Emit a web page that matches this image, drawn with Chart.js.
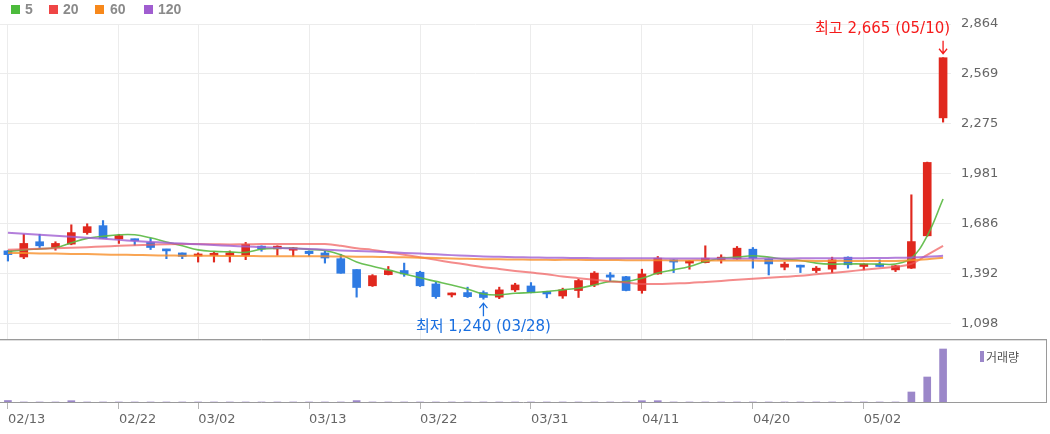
<!DOCTYPE html>
<html lang="ko">
<head>
<meta charset="utf-8">
<title>일봉 차트</title>
<script src="https://cdn.jsdelivr.net/npm/chart.js@4.4.1/dist/chart.umd.min.js"></script>
<style>
  html, body { margin: 0; padding: 0; background: #fff; }
  #wrap { position: relative; width: 1050px; height: 434px; overflow: hidden; }
  #priceChart { position: absolute; left: 0; top: 0; }
  #volChart { position: absolute; left: 0; top: 339px; }
  .sq { position: absolute; top: 5px; width: 9px; height: 9px; }
  .lg { position: absolute; top: 1px; font: bold 14px "Liberation Sans", Arial, sans-serif; color: #8a8a8a; }
  #volKey { position: absolute; left: 980px; top: 351px; width: 4px; height: 11px; background: #9b87c9; }
  #volTxt { position: absolute; left: 986px; top: 348px; font: 12px "Noto Sans CJK KR", sans-serif; color: #555; }
</style>
</head>
<body>
<div id="wrap">
  <canvas id="priceChart" width="1050" height="339"></canvas>
  <canvas id="volChart" width="1050" height="95"></canvas>

  <div class="sq" style="left:11px;background:#4cbb3c"></div><div class="lg" style="left:25px">5</div>
  <div class="sq" style="left:49px;background:#ef4545"></div><div class="lg" style="left:63px">20</div>
  <div class="sq" style="left:95px;background:#f7881b"></div><div class="lg" style="left:110px">60</div>
  <div class="sq" style="left:144px;background:#a05dd0"></div><div class="lg" style="left:158px">120</div>

  <div id="volKey"></div><div id="volTxt">거래량</div>
</div>

<script>
// trading days (2023)
const dates = [
  "02/13","02/14","02/15","02/16","02/17","02/20","02/21","02/22","02/23","02/24",
  "02/27","02/28","03/02","03/03","03/06","03/07","03/08","03/09","03/10","03/13",
  "03/14","03/15","03/16","03/17","03/20","03/21","03/22","03/23","03/24","03/27",
  "03/28","03/29","03/30","03/31","04/03","04/04","04/05","04/06","04/07","04/10",
  "04/11","04/12","04/13","04/14","04/17","04/18","04/19","04/20","04/21","04/24",
  "04/25","04/26","04/27","04/28","05/02","05/03","05/04","05/08","05/09","05/10"
];
const tickDates = ["02/13","02/22","03/02","03/13","03/22","03/31","04/11","04/20","05/02"];

const openP = [
  1525,1489,1579,1545,1565,1633,1674,1595,1593,1575,
  1533,1513,1495,1499,1499,1499,1553,1537,1529,1523,
  1513,1479,1415,1319,1385,1409,1399,1330,1265,1279,
  1279,1252,1295,1318,1285,1259,1291,1324,1383,1373,
  1291,1389,1472,1453,1456,1472,1478,1535,1476,1429,
  1437,1409,1417,1488,1433,1447,1413,1423,1614,2310
];
const highP = [
  1527,1623,1623,1579,1679,1685,1704,1623,1595,1599,
  1535,1513,1513,1519,1525,1575,1555,1555,1545,1525,
  1523,1505,1415,1385,1433,1453,1405,1340,1277,1311,
  1289,1311,1334,1338,1287,1305,1358,1403,1397,1375,
  1417,1492,1474,1468,1555,1502,1551,1545,1478,1459,
  1441,1433,1488,1490,1449,1472,1439,1856,2049,2665
];
const lowP = [
  1465,1479,1545,1529,1561,1623,1599,1569,1559,1533,
  1479,1479,1459,1459,1459,1473,1523,1499,1493,1495,
  1453,1393,1252,1315,1383,1375,1315,1245,1253,1250,
  1240,1243,1285,1277,1248,1245,1250,1314,1348,1289,
  1275,1387,1397,1417,1454,1453,1476,1423,1383,1413,
  1397,1397,1397,1423,1413,1431,1403,1421,1612,2285
];
const closeP = [
  1503,1569,1555,1569,1633,1668,1599,1615,1585,1545,
  1525,1493,1505,1509,1513,1563,1537,1553,1543,1509,
  1483,1393,1309,1379,1409,1389,1319,1255,1270,1255,
  1250,1295,1324,1279,1271,1295,1350,1394,1370,1291,
  1389,1482,1459,1466,1482,1488,1541,1482,1448,1447,
  1429,1423,1472,1443,1447,1433,1437,1580,2047,2665
];

// moving averages as drawn
const ma5 = [
  1521,1531,1537,1543,1573,1599,1611,1620,1620,1602,
  1578,1555,1531,1522,1519,1516,1535,1540,1541,1534,
  1527,1502,1460,1434,1413,1389,1366,1345,1324,1300,
  1271,1265,1275,1279,1285,1295,1305,1324,1344,1344,
  1364,1394,1413,1433,1462,1482,1488,1496,1488,1476,
  1468,1453,1447,1448,1448,1447,1448,1482,1614,1831
];
const ma20 = [
  1531,1534,1537,1540,1543,1547,1551,1555,1558,1561,
  1564,1565,1565,1564,1563,1564,1565,1565,1565,1565,
  1565,1555,1540,1531,1516,1502,1487,1472,1457,1443,
  1429,1418,1407,1397,1387,1374,1364,1354,1345,1338,
  1330,1330,1333,1336,1342,1348,1354,1360,1366,1372,
  1378,1387,1395,1404,1413,1422,1431,1448,1502,1555
];
const ma60 = [
  1513,1512,1510,1509,1507,1506,1504,1502,1501,1499,
  1498,1497,1496,1496,1495,1495,1494,1494,1493,1493,
  1493,1492,1491,1490,1489,1487,1485,1483,1480,1478,
  1476,1475,1474,1473,1472,1472,1472,1471,1471,1470,
  1470,1470,1469,1469,1469,1468,1468,1468,1467,1467,
  1467,1466,1466,1466,1465,1465,1466,1470,1476,1484
];
const ma120 = [
  1632,1626,1620,1614,1608,1602,1596,1590,1584,1578,
  1573,1568,1564,1560,1555,1551,1547,1543,1539,1536,
  1532,1528,1524,1521,1518,1513,1509,1505,1500,1496,
  1492,1490,1488,1486,1485,1484,1483,1482,1482,1481,
  1481,1481,1480,1480,1480,1480,1480,1480,1480,1480,
  1481,1481,1481,1482,1482,1483,1484,1486,1490,1496
];

// volume: only a few days show a visible bar
const volume = [
  150,0,0,0,130,0,0,0,0,0,
  0,0,0,0,0,0,0,0,0,0,
  0,0,140,0,0,0,0,0,0,0,
  0,0,0,0,0,0,0,0,0,0,
  130,130,0,0,0,0,0,0,0,0,
  0,0,0,0,0,0,0,1000,2500,5300
];

const priceTicks = [1098, 1392.33, 1686.67, 1981, 2275.33, 2569.67, 2864];
const priceTickLabels = ["1,098", "1,392", "1,686", "1,981", "2,275", "2,569", "2,864"];

const UP = "#e0281e", DOWN = "#2f7be3";
const candleColor = closeP.map((c, i) => c >= openP[i] ? UP : DOWN);

Chart.defaults.font.family = '"DejaVu Sans", sans-serif';
Chart.defaults.animation = false;

function keepDateTicks(scale) {
  scale.ticks = scale.ticks.filter(t => tickDates.includes(dates[t.value]));
}

// 최고/최저 markers
const hiLoPlugin = {
  id: "hiLo",
  afterDatasetsDraw(chart) {
    const { ctx, scales: { x, y } } = chart;
    const hi = Math.max(...highP), lo = Math.min(...lowP);
    const hiI = highP.indexOf(hi), loI = lowP.indexOf(lo);
    const fmt = v => v.toLocaleString("en-US");
    ctx.save();
    ctx.font = '15px "DejaVu Sans", "Noto Sans CJK KR", sans-serif';
    ctx.lineWidth = 1.3;

    let px = x.getPixelForValue(hiI), py = y.getPixelForValue(hi);
    ctx.fillStyle = ctx.strokeStyle = "#f51b1b";
    ctx.textAlign = "right"; ctx.textBaseline = "middle";
    ctx.fillText("최고 " + fmt(hi) + " (" + dates[hiI] + ")", px + 7, py - 29);
    ctx.beginPath();
    ctx.moveTo(px, py - 17); ctx.lineTo(px, py - 4);
    ctx.moveTo(px - 4, py - 9); ctx.lineTo(px, py - 4); ctx.lineTo(px + 4, py - 9);
    ctx.stroke();

    px = x.getPixelForValue(loI); py = y.getPixelForValue(lo);
    ctx.fillStyle = ctx.strokeStyle = "#1a6fe0";
    ctx.textAlign = "center";
    ctx.fillText("최저 " + fmt(lo) + " (" + dates[loI] + ")", px, py + 28);
    ctx.beginPath();
    ctx.moveTo(px, py + 17); ctx.lineTo(px, py + 4);
    ctx.moveTo(px - 4, py + 9); ctx.lineTo(px, py + 4); ctx.lineTo(px + 4, py + 9);
    ctx.stroke();
    ctx.restore();
  }
};

function maLine(data, color, width) {
  return {
    type: "line", data, borderColor: color, borderWidth: width,
    pointRadius: 0, tension: 0.4, order: 0
  };
}

new Chart(document.getElementById("priceChart"), {
  type: "bar",
  data: {
    labels: dates,
    datasets: [
      maLine(ma120, "rgba(160,95,210,0.8)", 2),
      maLine(ma60, "rgba(247,142,40,0.8)", 2),
      maLine(ma20, "rgba(240,90,90,0.7)", 2),
      maLine(ma5, "rgba(90,185,65,0.9)", 1.6),
      {
        data: openP.map((o, i) => [Math.min(o, closeP[i]), Math.max(o, closeP[i])]),
        backgroundColor: candleColor, barThickness: 8, minBarLength: 2,
        grouped: false, order: 1
      },
      {
        data: lowP.map((l, i) => [l, highP[i]]),
        backgroundColor: candleColor, barThickness: 1.5,
        grouped: false, order: 2
      }
    ]
  },
  options: {
    responsive: false,
    layout: { padding: { top: 24, left: 0, right: 0, bottom: 0 } },
    plugins: { legend: { display: false }, tooltip: { enabled: false } },
    scales: {
      x: {
        offset: true,
        grid: { offset: false, color: "#ececec", drawTicks: false },
        border: { display: false },
        ticks: { display: false, autoSkip: false },
        afterBuildTicks: keepDateTicks,
        afterFit: s => { s.height = 0; s.paddingLeft = 0; s.paddingRight = 0; }
      },
      y: {
        position: "right",
        min: 1005, max: 2864,
        grid: { color: "#ececec", drawTicks: false },
        border: { display: false },
        ticks: {
          color: "#666", font: { size: 13 }, padding: 10,
          callback: (v, i) => priceTickLabels[i]
        },
        afterBuildTicks: s => { s.ticks = priceTicks.map(v => ({ value: v })); },
        afterFit: s => { s.width = 99; s.paddingTop = 0; s.paddingBottom = 0; }
      }
    }
  },
  plugins: [hiLoPlugin]
});

// panel frame lines around volume area
const framePlugin = {
  id: "frame",
  afterDraw(chart) {
    const { ctx, chartArea } = chart;
    ctx.save();
    ctx.lineWidth = 1;
    ctx.strokeStyle = "#9a9a9a";
    ctx.beginPath();
    ctx.moveTo(0, 0.5); ctx.lineTo(1047, 0.5);
    ctx.moveTo(0, chartArea.bottom + 0.5); ctx.lineTo(1047, chartArea.bottom + 0.5);
    ctx.moveTo(1046.5, 0); ctx.lineTo(1046.5, chartArea.bottom + 1);
    ctx.stroke();
    ctx.strokeStyle = "#dedede";
    ctx.beginPath();
    ctx.moveTo(0, 1.5); ctx.lineTo(1046, 1.5);
    ctx.stroke();
    ctx.restore();
  }
};

new Chart(document.getElementById("volChart"), {
  type: "bar",
  data: {
    labels: dates,
    datasets: [{
      data: volume, backgroundColor: "#9b87c9", barThickness: 7
    }]
  },
  options: {
    responsive: false,
    layout: { padding: { top: 2, left: 0, right: 99, bottom: 0 } },
    plugins: { legend: { display: false }, tooltip: { enabled: false } },
    scales: {
      x: {
        offset: true,
        grid: { offset: false, drawOnChartArea: false, drawTicks: true, tickLength: 7, color: "#b5b5b5" },
        border: { display: false },
        ticks: { autoSkip: false, maxRotation: 0, align: "start", color: "#666", font: { size: 13 }, padding: 3 },
        afterBuildTicks: keepDateTicks,
        afterFit: s => { s.height = 32; }
      },
      y: { display: false, min: 0, max: 6100 }
    }
  },
  plugins: [framePlugin]
});
</script>
</body>
</html>
